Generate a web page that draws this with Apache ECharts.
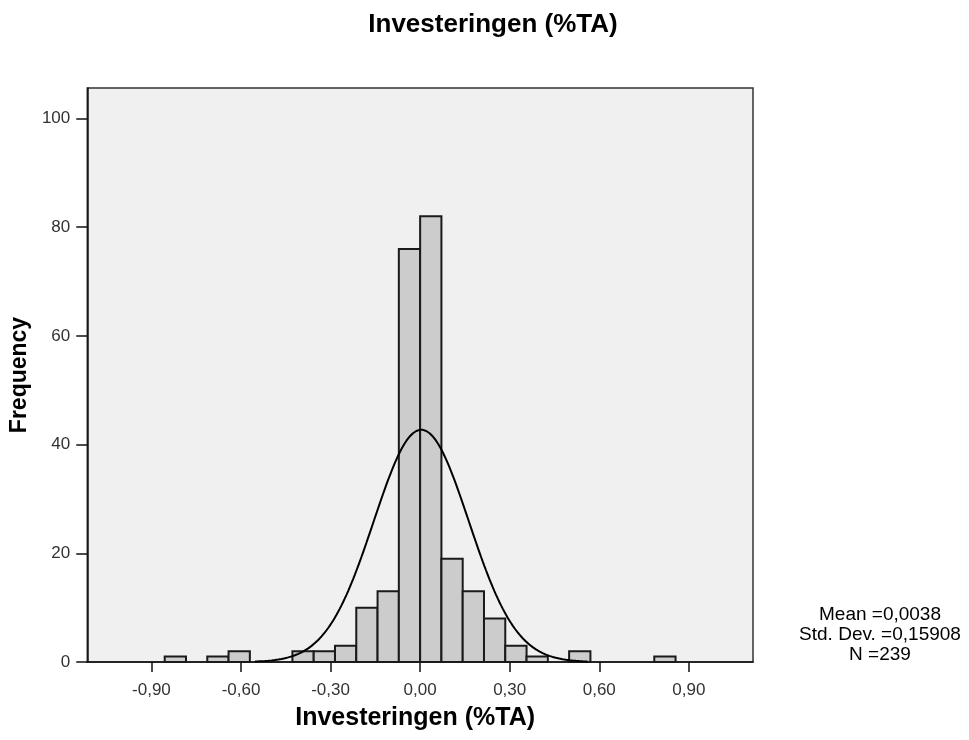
<!DOCTYPE html>
<html>
<head>
<meta charset="utf-8">
<script src="https://cdn.jsdelivr.net/npm/echarts@6/dist/echarts.min.js"></script>
<style>
html,body{margin:0;padding:0;background:#fff;}
#chart{width:969px;height:740px;}
</style>
</head>
<body>
<div id="chart"></div>
<script>
// Histogram data
const binWidth = 0.0713;
const binIndex = [-12,-11,-10,-9,-8,-7,-6,-5,-4,-3,-2,-1,0,1,2,3,4,5,6,7,8,9,10,11];
const counts   = [  1,  0,  1,  2,  0,  0,  2,  2,  3, 10, 13, 76,82,19,13, 8, 3, 1, 0, 2, 0, 0, 0, 1];
const xTicks = [-0.9,-0.6,-0.3,0,0.3,0.6,0.9];
const yTicks = [0,20,40,60,80,100];
const statMean = 0.0038;
const statSD = 0.15908;
const statN = 239;
const titleText = 'Investeringen (%TA)';
const xName = 'Investeringen (%TA)';
const yName = 'Frequency';

const barData = [];
for (let i = 0; i < binIndex.length; i++) {
  if (counts[i] > 0) barData.push([binIndex[i]*binWidth, (binIndex[i]+1)*binWidth, counts[i]]);
}
// Fitted normal curve from the printed statistics (Mean, Std. Dev., N) and bin width
const curve = [];
const lo = statMean - 3.5*statSD, hi = statMean + 3.5*statSD;
for (let k = 0; k <= 200; k++) {
  const x = lo + (hi-lo)*k/200;
  const z = (x - statMean)/statSD;
  curve.push([x, statN*binWidth/(statSD*Math.sqrt(2*Math.PI))*Math.exp(-0.5*z*z)]);
}

const fmt = v => v.toFixed(2).replace('.', ',');
const FONT = 'Liberation Sans, Arial, sans-serif';
const chart = echarts.init(document.getElementById('chart'), null, {renderer:'canvas'});
chart.setOption({
  animation: false,
  title: {
    text: titleText, left: 488, top: 7, textAlign: 'center',
    textStyle: {fontFamily: FONT, fontSize: 26, fontWeight: 'bold', color: '#000'}
  },
  grid: {
    left: 86, right: 216, top: 88, bottom: 78,
    show: true, backgroundColor: '#F0F0F0', borderColor: '#333', borderWidth: 1.5
  },
  xAxis: {
    type: 'value', min: -1.115, max: 1.115,
    name: xName, nameLocation: 'middle', nameGap: 44,
    nameTextStyle: {fontFamily: FONT, fontSize: 25, fontWeight: 'bold', color: '#000', padding: [0, 10, 0, 0]},
    axisLine: {show: true, onZero: false, lineStyle: {color: '#111', width: 1.5}},
    axisTick: {show: true, length: 10, customValues: xTicks, lineStyle: {color: '#111', width: 1.5}},
    axisLabel: {customValues: xTicks, formatter: fmt, margin: 20,
      fontFamily: FONT, fontSize: 17, color: '#333'},
    splitLine: {show: false}
  },
  yAxis: {
    type: 'value', min: 0, max: 105.6,
    name: yName, nameLocation: 'middle', nameGap: 48, nameRotate: 90,
    nameTextStyle: {fontFamily: FONT, fontSize: 23, fontWeight: 'bold', color: '#000'},
    axisLine: {show: true, onZero: false, lineStyle: {color: '#111', width: 1.5}},
    axisTick: {show: true, length: 11, customValues: yTicks, lineStyle: {color: '#111', width: 1.5}},
    axisLabel: {customValues: yTicks, margin: 17,
      fontFamily: FONT, fontSize: 17, color: '#333'},
    splitLine: {show: false}
  },
  series: [
    {
      type: 'custom',
      data: barData,
      renderItem: function (params, api) {
        const p0 = api.coord([api.value(0), api.value(2)]);
        const p1 = api.coord([api.value(1), 0]);
        return {
          type: 'rect',
          shape: {x: p0[0], y: p0[1], width: p1[0]-p0[0], height: p1[1]-p0[1]},
          style: {fill: '#CCCCCC', stroke: '#1a1a1a', lineWidth: 2}
        };
      },
      encode: {x: [0, 1], y: 2},
      z: 2
    },
    {
      type: 'line', data: curve, showSymbol: false, smooth: false,
      lineStyle: {color: '#000', width: 2}, z: 3
    }
  ],
  graphic: [{
    type: 'text', x: 880, y: 635,
    style: {
      text: 'Mean =0,0038\nStd. Dev. =0,15908\nN =239',
      align: 'center', verticalAlign: 'middle',
      font: '19px ' + FONT, lineHeight: 20, fill: '#000'
    }
  }]
});
</script>
</body>
</html>
